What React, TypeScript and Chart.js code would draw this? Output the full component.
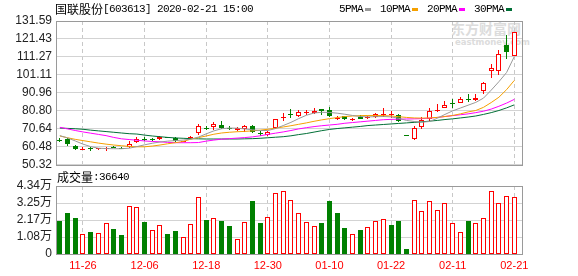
import React, { useEffect, useRef } from 'react';
import { Chart, registerables } from 'chart.js';

Chart.register(...registerables);

// ---------- data ----------
const stockName = '国联股份';
const stockCode = '[603613]';
const quoteTime = '2020-02-21 15:00';
const volumeName = '成交量';
const lastVolume = 36640;

const dates = [
  '11-21', '11-22', '11-25', '11-26', '11-27', '11-28', '11-29', '12-02', '12-03', '12-04',
  '12-05', '12-06', '12-09', '12-10', '12-11', '12-12', '12-13', '12-16', '12-17', '12-18',
  '12-19', '12-20', '12-23', '12-24', '12-25', '12-26', '12-27', '12-30', '12-31', '01-02',
  '01-03', '01-06', '01-07', '01-08', '01-09', '01-10', '01-13', '01-14', '01-15', '01-16',
  '01-17', '01-20', '01-21', '01-22', '01-23', '02-03', '02-04', '02-05', '02-06', '02-07',
  '02-10', '02-11', '02-12', '02-13', '02-14', '02-17', '02-18', '02-19', '02-20', '02-21',
];
const dateTicks = ['11-26', '12-06', '12-18', '12-30', '01-10', '01-22', '02-11', '02-21'];

const openPrice = [
  64.4, 64.7, 61.2, 59.3, 60.0, 59.2, 59.3, 60.5, 60.0, 60.6,
  63.2, 65.0, 64.7, 64.8, 65.8, 65.5, 63.5, 65.4, 68.3, 71.3,
  71.5, 73.0, 71.2, 70.2, 70.4, 72.4, 68.3, 67.4, 71.1, 77.0,
  79.0, 77.7, 80.0, 79.6, 81.8, 81.5, 76.9, 77.7, 75.5, 77.5,
  77.0, 77.3, 78.6, 78.9, 78.5, 67.4, 64.8, 71.7, 76.0, 80.9,
  82.4, 85.0, 85.4, 87.5, 87.2, 92.0, 103.3, 103.3, 117.9, 112.0,
];
const highPrice = [
  65.3, 65.7, 61.7, 60.3, 60.3, 60.0, 60.6, 61.0, 60.2, 63.6,
  65.9, 66.0, 65.4, 66.6, 66.0, 66.1, 64.0, 66.8, 73.4, 72.4,
  74.5, 75.3, 72.3, 71.5, 72.6, 72.6, 69.5, 69.3, 76.3, 79.8,
  81.8, 81.5, 81.5, 82.2, 81.9, 82.8, 78.1, 77.9, 77.0, 78.5,
  78.1, 79.6, 82.6, 80.9, 78.8, 67.4, 72.0, 77.4, 82.6, 84.5,
  86.2, 87.5, 88.5, 90.2, 90.6, 96.9, 107.3, 115.3, 123.5, 125.4,
];
const lowPrice = [
  63.0, 61.2, 58.5, 59.1, 58.3, 58.8, 58.2, 59.6, 59.4, 59.9,
  62.5, 63.6, 64.0, 64.5, 65.2, 63.0, 63.2, 64.9, 67.4, 70.0,
  70.2, 70.5, 69.8, 69.6, 69.1, 68.5, 66.8, 66.7, 70.8, 74.9,
  77.0, 77.3, 78.5, 78.9, 78.5, 77.3, 75.5, 75.9, 75.3, 76.3,
  76.0, 76.6, 77.3, 76.8, 74.7, 67.2, 64.3, 70.4, 75.0, 80.2,
  82.3, 82.2, 85.0, 85.8, 86.2, 90.6, 99.1, 101.2, 110.0, 111.9,
];
const closePrice = [
  64.2, 61.9, 59.5, 59.5, 59.0, 59.6, 59.6, 60.3, 59.8, 62.3,
  65.1, 64.8, 64.5, 66.2, 65.5, 63.6, 63.8, 65.9, 72.5, 71.0,
  73.4, 70.9, 70.9, 71.1, 72.3, 68.7, 68.0, 68.9, 76.2, 77.5,
  78.8, 80.3, 80.4, 80.9, 80.5, 77.7, 77.0, 76.2, 76.4, 76.4,
  77.4, 79.0, 79.0, 79.1, 75.3, 67.2, 71.3, 75.4, 80.7, 81.4,
  83.9, 84.7, 87.7, 87.1, 88.3, 96.7, 105.3, 113.0, 113.9, 125.4,
];

const ma5 = [
  66.8, 65.5, 63.8, 62.0, 60.6, 59.7, 59.5, 59.4, 59.4, 59.7,
  60.6, 61.6, 62.5, 63.2, 63.7, 64.0, 64.3, 64.8, 66.0, 67.8,
  69.5, 70.7, 71.1, 71.0, 70.6, 70.1, 69.7, 69.7, 70.8, 72.5,
  74.3, 76.4, 78.3, 79.6, 80.0, 79.9, 79.5, 78.9, 78.2, 77.6,
  77.4, 77.5, 77.6, 77.4, 76.6, 75.4, 74.8, 74.4, 74.8, 76.6,
  78.8, 80.8, 82.4, 84.0, 85.6, 88.0, 92.5, 97.3, 102.5, 111.5,
];
const ma10 = [
  66.6, 65.6, 64.7, 64.0, 63.3, 62.6, 62.0, 61.5, 61.1, 60.7,
  60.5, 60.5, 60.9, 61.5, 62.2, 62.8, 63.5, 64.8, 65.7, 66.6,
  67.6, 68.3, 68.7, 69.0, 69.2, 69.5, 69.9, 70.4, 71.0, 71.7,
  72.4, 73.2, 74.0, 74.9, 75.7, 76.4, 77.0, 77.6, 77.9, 78.1,
  78.2, 78.2, 78.1, 77.9, 77.5, 77.1, 76.8, 76.7, 76.8, 77.1,
  77.6, 78.2, 79.1, 80.2, 81.0, 82.8, 85.5, 88.5, 92.8, 98.0,
];
const ma20 = [
  71.5, 70.6, 69.7, 68.9, 68.2, 67.5, 66.8, 65.8, 65.0, 64.6,
  64.2, 63.8, 63.5, 63.3, 63.0, 62.8, 62.8, 62.8, 62.9, 63.7,
  64.3, 64.8, 65.1, 65.4, 65.7, 66.1, 66.7, 67.5, 68.2, 68.9,
  69.7, 70.6, 71.3, 71.9, 72.4, 72.8, 73.2, 73.8, 74.2, 74.6,
  75.0, 75.4, 75.8, 76.0, 76.1, 76.2, 76.3, 76.4, 76.7, 77.1,
  77.6, 78.1, 78.6, 79.1, 79.8, 80.6, 81.8, 83.4, 85.2, 87.3,
];
const ma30 = [
  71.1, 70.9, 70.7, 70.4, 69.9, 69.5, 69.1, 68.7, 68.3, 67.9,
  67.7, 67.1, 66.6, 66.2, 65.8, 65.5, 65.3, 65.1, 65.0, 64.9,
  64.9, 64.9, 64.9, 64.9, 65.0, 65.1, 65.3, 65.6, 65.9, 66.2,
  66.7, 67.4, 68.0, 68.8, 69.6, 70.3, 70.8, 71.2, 71.6, 72.0,
  72.5, 72.8, 73.1, 73.4, 73.7, 74.0, 74.3, 74.6, 75.0, 75.4,
  75.9, 76.3, 76.8, 77.3, 77.9, 78.8, 79.8, 81.0, 82.5, 84.2,
];
const maNames = ['5PMA', '10PMA', '20PMA', '30PMA'];

const volumes = [
  21300, 26400, 23200, 13000, 14300, 13400, 20000, 16200, 12300, 30800,
  30200, 20600, 15300, 18500, 13000, 14900, 10900, 19400, 36600, 21900,
  23000, 21300, 18100, 9800, 20600, 34000, 20000, 23800, 39100, 40400,
  34700, 26400, 20600, 18100, 19600, 34000, 26400, 16800, 13000, 15500,
  17400, 21300, 22600, 18700, 21300, 3400, 34700, 27700, 34000, 28300,
  32800, 20000, 14300, 21300, 20000, 23200, 40400, 32800, 37200, 36640,
];
const volumeUp = [
  0, 0, 0, 1, 0, 1, 1, 0, 0, 1,
  1, 0, 1, 1, 0, 0, 1, 1, 1, 0,
  1, 0, 0, 1, 1, 0, 0, 1, 1, 1,
  1, 1, 1, 1, 0, 0, 0, 0, 1, 0,
  1, 1, 1, 0, 0, 0, 1, 1, 1, 1,
  1, 1, 1, 0, 1, 1, 1, 1, 1, 1,
];

const priceTicks = [50.32, 60.48, 70.64, 80.80, 90.96, 101.11, 111.27, 121.43, 131.59];
const volumeTicks = [0, 10850, 21700, 32550, 43400];
const volumeTickLabels = ['0', '1.08万', '2.17万', '3.25万', '4.34万'];

// ---------- style ----------
const RED = '#ff0000';
const GREEN = '#008000';
const MA_COLORS = ['#999999', '#f5a000', '#ff00ff', '#006f36'];
const GRID = '#d3d3d3';
const VGRID = '#c8c8c8';
const FRAME = '#9a9a9a';
const AXIS_FONT = "'Liberation Sans', 'Noto Sans CJK SC', sans-serif";
const MONO = "'Liberation Mono', 'DejaVu Sans Mono', monospace";
const CJK = "'Noto Sans CJK SC', sans-serif";

const framePlugin = {
  id: 'frame',
  afterDraw(chart: any) {
    const { ctx, chartArea } = chart;
    const l = Math.round(chartArea.left);
    const t = Math.round(chartArea.top);
    const r = Math.round(chartArea.right);
    const b = Math.round(chartArea.bottom);
    ctx.save();
    ctx.strokeStyle = FRAME;
    ctx.lineWidth = 1;
    ctx.strokeRect(l + 0.5, t + 0.5, r - l, b - t);
    ctx.restore();
  },
};

// snap bar elements to whole pixels so thin borders and wicks stay crisp
const snapPlugin = {
  id: 'snapBars',
  beforeDatasetsDraw(chart: any) {
    chart.data.datasets.forEach((ds: any, di: number) => {
      const meta = chart.getDatasetMeta(di);
      if (meta.type !== 'bar') return;
      meta.data.forEach((el: any) => {
        const w = Math.round(el.width);
        el.x = w % 2 === 1 ? Math.floor(el.x) + 0.5 : Math.round(el.x);
        let top = Math.round(Math.min(el.y, el.base));
        let bot = Math.round(Math.max(el.y, el.base));
        if (bot - top < 1) bot = top + 1;
        el.y = top;
        el.base = bot;
        el.height = bot - top;
        el.width = w;
      });
    });
  },
};

const asciiStyle: React.CSSProperties = { fontFamily: MONO, fontSize: 11, letterSpacing: -0.6 };
const cjkStyle: React.CSSProperties = { fontFamily: CJK, fontSize: 12 };

export default function App() {
  const priceRef = useRef<HTMLCanvasElement>(null);
  const volRef = useRef<HTMLCanvasElement>(null);

  useEffect(() => {
    const n = dates.length;
    const xTickValues = dateTicks.map((d) => dates.indexOf(d));
    const up = closePrice.map((c, i) => c > openPrice[i]);
    const bodies = openPrice.map((o, i) => ({
      x: i,
      y: [Math.min(o, closePrice[i]), Math.max(o, closePrice[i])],
    }));
    const wicks = lowPrice.map((l, i) => ({ x: i, y: [l, highPrice[i]] }));
    const maLine = (arr: number[], color: string) => ({
      type: 'line' as const,
      data: arr.map((v, i) => ({ x: i, y: v })),
      borderColor: color,
      borderWidth: 1,
      pointRadius: 0,
      fill: false,
      tension: 0,
      order: 0,
    });

    const xScale = (showLabels: boolean) => ({
      type: 'linear' as const,
      min: -0.5,
      max: n,
      offset: false,
      afterBuildTicks: (s: any) => {
        s.ticks = xTickValues.map((v) => ({ value: v }));
      },
      afterFit: (s: any) => {
        s.height = showLabels ? 19 : 0;
      },
      grid: { color: VGRID, drawTicks: false, offset: false, lineWidth: 1 },
      border: { display: false, dash: [4, 3] },
      ticks: {
        display: showLabels,
        autoSkip: false,
        maxRotation: 0,
        minRotation: 0,
        padding: 5,
        color: RED,
        font: { family: AXIS_FONT, size: 11 },
        callback: (v: any) => dates[Number(v)] ?? '',
      },
    });

    const yTicks = (labels: (v: any, i: number) => string) => ({
      autoSkip: false,
      padding: 4,
      color: '#222',
      font: { family: AXIS_FONT, size: 12 },
      callback: labels,
    });

    const priceChart = new Chart(priceRef.current as HTMLCanvasElement, {
      type: 'bar',
      data: {
        datasets: [
          maLine(ma5, MA_COLORS[0]),
          maLine(ma10, MA_COLORS[1]),
          maLine(ma20, MA_COLORS[2]),
          maLine(ma30, MA_COLORS[3]),
          {
            type: 'bar',
            data: bodies as any,
            backgroundColor: up.map((u) => (u ? '#ffffff' : GREEN)),
            borderColor: up.map((u) => (u ? RED : GREEN)),
            borderWidth: 1,
            borderSkipped: false,
            barThickness: 5,
            grouped: false,
            inflateAmount: 0,
            order: 1,
          } as any,
          {
            type: 'bar',
            data: wicks as any,
            backgroundColor: up.map((u) => (u ? RED : GREEN)),
            borderWidth: 0,
            barThickness: 1,
            grouped: false,
            inflateAmount: 0,
            order: 2,
          } as any,
        ],
      },
      options: {
        animation: false,
        responsive: false,
        devicePixelRatio: 1,
        events: [],
        layout: { padding: { top: 21, bottom: 11, left: 0, right: 56 } },
        plugins: { legend: { display: false }, tooltip: { enabled: false } },
        scales: {
          x: xScale(false) as any,
          y: {
            type: 'linear',
            min: priceTicks[0],
            max: priceTicks[priceTicks.length - 1],
            afterBuildTicks: (s: any) => {
              s.ticks = priceTicks.map((v) => ({ value: v }));
            },
            afterFit: (s: any) => {
              s.width = 56;
            },
            grid: { color: GRID, drawTicks: false },
            border: { display: false },
            ticks: yTicks((v: any) => Number(v).toFixed(2)) as any,
          },
        },
      },
      plugins: [snapPlugin, framePlugin],
    });

    const volChart = new Chart(volRef.current as HTMLCanvasElement, {
      type: 'bar',
      data: {
        datasets: [
          {
            data: volumes.map((v, i) => ({ x: i, y: v })) as any,
            backgroundColor: volumeUp.map((u) => (u ? '#ffffff' : GREEN)),
            borderColor: volumeUp.map((u) => (u ? RED : GREEN)),
            borderWidth: 1,
            borderSkipped: false,
            barThickness: 5,
            grouped: false,
            inflateAmount: 0,
          } as any,
        ],
      },
      options: {
        animation: false,
        responsive: false,
        devicePixelRatio: 1,
        events: [],
        layout: { padding: { top: 16, bottom: 3, left: 0, right: 56 } },
        plugins: { legend: { display: false }, tooltip: { enabled: false } },
        scales: {
          x: xScale(true) as any,
          y: {
            type: 'linear',
            min: 0,
            max: volumeTicks[volumeTicks.length - 1],
            afterBuildTicks: (s: any) => {
              s.ticks = volumeTicks.map((v) => ({ value: v }));
            },
            afterFit: (s: any) => {
              s.width = 56;
            },
            grid: { color: GRID, drawTicks: false },
            border: { display: false },
            ticks: yTicks((_v: any, i: number) => volumeTickLabels[i]) as any,
          },
        },
      },
      plugins: [snapPlugin, framePlugin],
    });

    return () => {
      priceChart.destroy();
      volChart.destroy();
    };
  }, []);

  return (
    <div
      style={{
        position: 'fixed',
        left: 0,
        top: 0,
        width: 578,
        height: 276,
        background: '#ffffff',
        overflow: 'hidden',
        color: '#000',
      }}
    >
      {/* watermark */}
      <div
        style={{
          position: 'absolute',
          left: 451,
          top: 20,
          fontFamily: CJK,
          fontWeight: 700,
          fontSize: 14,
          lineHeight: '17px',
          color: '#dcdcdc',
          whiteSpace: 'pre',
        }}
      >
        东方财富网
      </div>
      <div
        style={{
          position: 'absolute',
          left: 455,
          top: 37,
          fontFamily: "'DejaVu Sans', sans-serif",
          fontWeight: 700,
          fontSize: 8.5,
          lineHeight: '10px',
          color: '#dcdcdc',
          whiteSpace: 'pre',
        }}
      >
        eastmoney.com
      </div>

      <canvas
        ref={priceRef}
        width={578}
        height={176}
        style={{ position: 'absolute', left: 0, top: 0, width: 578, height: 176 }}
      />
      <canvas
        ref={volRef}
        width={578}
        height={106}
        style={{ position: 'absolute', left: 0, top: 170, width: 578, height: 106 }}
      />

      {/* title */}
      <div
        style={{
          position: 'absolute',
          left: 55,
          top: 2,
          lineHeight: '14px',
          whiteSpace: 'pre',
          display: 'flex',
          alignItems: 'center',
        }}
      >
        <span style={cjkStyle}>{stockName}</span>
        <span style={asciiStyle}>{stockCode + ' ' + quoteTime}</span>
      </div>

      {/* legend */}
      <div
        style={{
          position: 'absolute',
          left: 339,
          top: 2,
          lineHeight: '14px',
          display: 'flex',
          alignItems: 'center',
          whiteSpace: 'pre',
        }}
      >
        {maNames.map((name, i) => (
          <React.Fragment key={name}>
            <span style={asciiStyle}>{name}</span>
            <span
              style={{
                display: 'inline-block',
                width: 6,
                height: 3,
                marginLeft: 2,
                marginRight: 9,
                background: MA_COLORS[i],
              }}
            />
          </React.Fragment>
        ))}
      </div>

      {/* volume title */}
      <div
        style={{
          position: 'absolute',
          left: 57,
          top: 170,
          lineHeight: '14px',
          display: 'flex',
          alignItems: 'center',
          whiteSpace: 'pre',
        }}
      >
        <span style={cjkStyle}>{volumeName}</span>
        <span style={asciiStyle}>{':' + lastVolume}</span>
      </div>
    </div>
  );
}
